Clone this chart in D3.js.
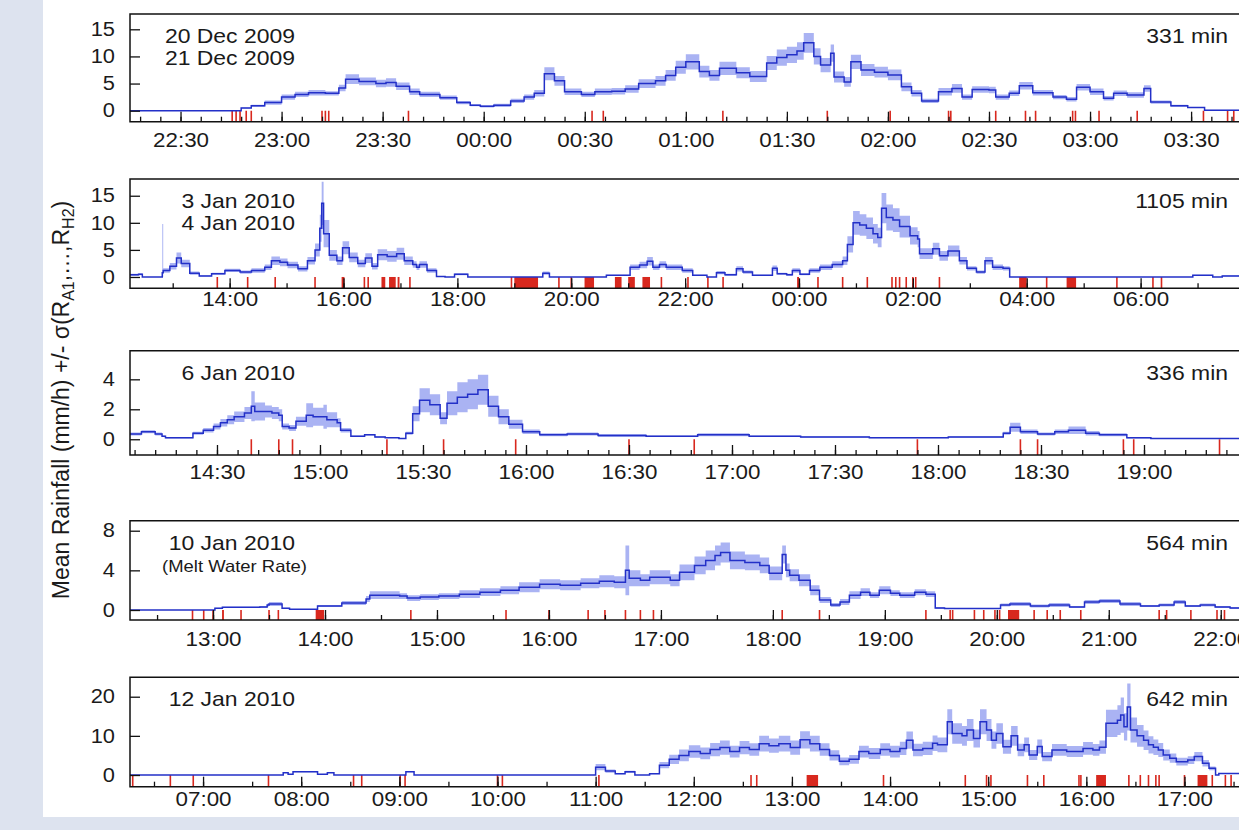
<!DOCTYPE html>
<html>
<head>
<meta charset="utf-8">
<script src="https://cdn.jsdelivr.net/npm/d3@7"></script>
<style>
body { margin: 0; background: #dde3ef; }
svg { display: block; }
text { font-family: "Liberation Sans", Arial, Helvetica, sans-serif; fill: #1a1a1a; }
</style>
</head>
<body>
<svg id="chart" width="1239" height="830"></svg>
<script>
// rows are [time, mean rainfall (mm/h), sigma]
var dec20 = [
  ["22:15",0,0],["22:48",0.5,0.1],["22:51",0.9,0.2],["22:55",1.5,0.4],["23:00",2.5,0.5],
  ["23:04",3.0,0.5],["23:08",3.3,0.5],["23:13",3.2,0.4],["23:17",4.2,0.6],["23:19",5.8,0.9],
  ["23:23",5.4,0.7],["23:28",5.0,0.7],["23:31",5.2,0.8],["23:34",4.5,0.7],["23:38",3.5,0.6],
  ["23:41",3.0,0.5],["23:47",2.4,0.4],["23:52",1.5,0.3],["23:56",1.0,0.2],["23:59",0.8,0.2],
  ["00:03",1.0,0.3],["00:08",1.8,0.4],["00:12",2.5,0.5],["00:15",3.2,0.6],["00:18",6.8,1.2],
  ["00:21",5.5,0.9],["00:24",3.5,0.6],["00:29",3.0,0.5],["00:33",3.5,0.6],["00:38",3.6,0.6],
  ["00:42",4.0,0.7],["00:46",5.0,0.8],["00:51",5.5,0.9],["00:54",6.5,1.0],["00:57",8.0,1.2],
  ["01:00",9.0,1.4],["01:04",7.2,1.1],["01:07",6.5,1.0],["01:10",7.8,1.2],["01:15",7.0,1.0],
  ["01:19",6.3,1.0],["01:24",8.8,1.3],["01:27",9.8,1.5],["01:30",10.3,1.5],["01:33",11.0,1.6],
  ["01:35",12.5,1.8],["01:38",10.0,1.5],["01:40",8.4,1.3],["01:43",10.6,1.6],["01:44",6.2,1.0],
  ["01:47",5.3,0.9],["01:49",9.0,1.3],["01:52",7.5,1.1],["01:56",7.1,1.0],["02:00",6.6,1.0],
  ["02:04",4.4,0.8],["02:07",3.2,0.6],["02:10",1.8,0.4],["02:15",3.5,0.7],["02:19",4.1,0.8],
  ["02:22",2.5,0.5],["02:25",3.9,0.6],["02:30",3.8,0.6],["02:32",2.5,0.5],["02:36",3.2,0.5],
  ["02:39",4.6,0.7],["02:43",3.3,0.5],["02:49",2.5,0.4],["02:53",2.1,0.4],["02:56",4.3,0.6],
  ["03:00",3.5,0.6],["03:04",2.3,0.4],["03:07",3.2,0.5],["03:11",2.9,0.5],["03:16",4.1,0.6],
  ["03:18",1.6,0.3],["03:24",0.9,0.2],["03:29",0.6,0.1],["03:34",0.1,0.05],["03:46",0.1,0.05]
];
var dec20Marks = ["22:45:20","22:46:30","22:47:40","22:49:30","22:51:00","23:12","23:13","23:14",
  "23:37:40","00:32:10","00:35:30","01:11","01:42","02:00:40","02:18","02:18:40","02:32",
  "02:40:50","02:43:50","02:54:50","02:55:40","03:02:40","03:14","03:33:40","03:40:50","03:42:40"];

var jan3 = [
  ["12:15",0.4,0.2],["12:24",0.5,0.2],["12:28",0,0],["12:49",0.8,9.0],["12:50",1.2,0.4],
  ["12:57",2.0,0.6],["13:04",3.5,1.0],["13:09",2.5,0.7],["13:18",0.7,0.3],["13:28",0.2,0.1],
  ["13:41",0.6,0.2],["13:55",1.2,0.3],["14:11",0.9,0.3],["14:23",1.2,0.4],["14:37",1.8,0.5],
  ["14:44",3.0,0.8],["14:53",2.7,0.7],["15:01",2.2,0.6],["15:12",1.5,0.5],["15:22",3.0,0.7],
  ["15:30",5.0,1.2],["15:35",9.0,2.5],["15:37",13.6,4.0],["15:39",8.0,2.5],["15:45",4.0,1.0],
  ["15:53",3.0,0.8],["15:59",5.4,1.2],["16:06",3.6,0.9],["16:15",2.5,0.7],["16:23",3.5,0.9],
  ["16:30",2.0,0.6],["16:36",4.1,1.0],["16:46",3.8,1.0],["16:56",4.3,1.1],["17:04",3.0,0.8],
  ["17:13",2.3,0.6],["17:17",1.8,0.5],["17:20",2.3,0.6],["17:28",1.2,0.4],["17:38",0.1,0.1],
  ["17:47",0,0],["17:57",0.5,0.2],["18:11",0,0],["19:30",0.7,0.3],["19:37",0,0],
  ["20:37",0.3,0.1],["21:02",1.8,0.5],["21:12",2.2,0.6],["21:20",2.9,0.8],["21:26",1.8,0.5],
  ["21:33",2.3,0.6],["21:40",1.8,0.5],["21:57",1.2,0.4],["22:08",0.3,0.1],["22:23",0,0],
  ["22:33",0.8,0.3],["22:42",0.4,0.2],["22:54",1.5,0.5],["23:01",0.9,0.3],["23:11",0.3,0.1],
  ["23:32",1.6,0.5],["23:37",0.6,0.2],["23:47",0.4,0.2],["23:53",1.2,0.4],["00:01",0.5,0.2],
  ["00:11",1.2,0.4],["00:22",1.8,0.5],["00:35",2.3,0.6],["00:46",3.0,0.8],["00:51",6.0,1.5],
  ["00:57",10.0,2.2],["01:04",9.6,2.0],["01:11",9.0,2.0],["01:18",8.0,1.8],["01:23",7.3,1.8],
  ["01:27",12.7,2.8],["01:32",11.0,2.4],["01:39",10.5,2.2],["01:46",9.3,2.0],["01:57",7.6,1.6],
  ["02:05",7.0,1.5],["02:07",4.3,1.0],["02:21",5.2,1.1],["02:28",3.9,0.9],["02:37",4.8,1.0],
  ["02:49",3.0,0.7],["02:57",1.6,0.4],["03:07",0.9,0.3],["03:16",3.0,0.7],["03:24",1.8,0.5],
  ["03:35",1.6,0.4],["03:42",0,0],["06:55",0.3,0.1],["07:16",0,0],["07:26",0.2,0.1],["07:50",0.2,0.1]
];
var jan3Marks = ["13:47","14:19","14:48","15:30","16:22","16:26","17:10","18:57","19:47","20:00",
  "21:35","22:03","22:24","22:40","00:20","00:46","01:12","01:38","01:42","01:46","01:53","02:00",
  "02:03","02:28","04:21","05:35","06:13","06:22"];
var jan3Blocks = [["15:58","16:01"],["16:40","16:44"],["16:48","16:55"],["16:57","16:59"],
  ["19:00","19:25"],["20:14","20:24"],["20:46","20:53"],["21:00","21:07"],["21:15","21:23"],
  ["23:58","00:00"],["03:52","04:00"],["04:42","04:52"]];

var jan6 = [
  ["14:04:40",0.35,0.1],["14:08",0.5,0.1],["14:12",0.35,0.1],["14:14",0.2,0.05],["14:15",0.1,0.05],
  ["14:23",0.4,0.1],["14:26",0.6,0.15],["14:29",0.85,0.2],["14:31",1.1,0.25],["14:33",1.3,0.3],
  ["14:35",1.5,0.35],["14:38",1.75,0.4],["14:40",2.2,1.0],["14:41",1.85,0.6],["14:44",1.85,0.4],
  ["14:46",1.75,0.4],["14:48",1.6,0.4],["14:49",0.85,0.2],["14:51",0.75,0.2],["14:53",1.2,0.3],
  ["14:56",1.6,0.8],["14:58",1.5,0.6],["15:01",1.5,0.8],["15:02",1.3,0.5],["15:05",1.1,0.3],
  ["15:06",0.6,0.15],["15:09",0.2,0.05],["15:13",0.3,0.05],["15:16",0.15,0.05],["15:19",0.1,0.02],
  ["15:23",0.05,0.02],["15:25",0.4,0.1],["15:27",1.7,0.5],["15:29",2.6,0.8],["15:32",2.3,0.7],
  ["15:35",1.4,0.4],["15:37",2.4,0.8],["15:40",2.8,1.0],["15:43",3.0,1.0],["15:46",3.3,1.0],
  ["15:49",2.2,0.7],["15:52",1.5,0.5],["15:55",1.0,0.3],["15:59",0.5,0.15],["16:04",0.3,0.1],
  ["16:12",0.35,0.1],["16:21",0.25,0.1],["16:35",0.2,0.05],["16:50",0.3,0.1],["17:05",0.2,0.05],
  ["17:20",0.15,0.05],["17:40",0.1,0.03],["18:03",0.15,0.05],["18:19",0.4,0.1],["18:21",0.8,0.3],
  ["18:24",0.5,0.15],["18:29",0.35,0.1],["18:34",0.5,0.15],["18:38",0.6,0.25],["18:43",0.4,0.15],
  ["18:47",0.3,0.1],["18:55",0.1,0.05],["19:02",0.05,0.02],["19:29",0.05,0.02]
];
var jan6Marks = ["14:40","14:48","14:52","15:19:30","15:36","15:57","16:30","16:49","17:54",
  "18:24","18:29","18:54","18:57","19:22"];

var jan10 = [
  ["12:15:30",0,0],["13:01",0.17,0.05],["13:05",0.27,0.05],["13:18",0.27,0.05],["13:25",0.3,0.1],
  ["13:29",0.5,0.15],["13:30",0.6,0.2],["13:37",0.17,0.05],["13:41",0.07,0.02],["13:56",0.4,0.1],
  ["14:09",0.7,0.2],["14:22",1.1,0.3],["14:24",1.5,0.4],["14:40",1.4,0.3],["14:44",1.2,0.3],
  ["14:51",1.3,0.3],["15:01",1.4,0.3],["15:12",1.6,0.4],["15:23",1.8,0.4],["15:34",2.0,0.4],
  ["15:44",2.3,0.5],["15:55",2.6,0.5],["16:06",2.5,0.5],["16:17",2.7,0.5],["16:27",2.9,0.6],
  ["16:35",2.8,0.6],["16:41",4.0,2.5],["16:43",3.2,0.8],["16:49",3.0,0.6],["16:54",3.3,0.7],
  ["17:05",3.0,0.6],["17:10",3.8,0.8],["17:18",4.5,0.9],["17:24",5.0,1.0],["17:29",5.5,1.0],
  ["17:32",5.8,1.0],["17:37",5.0,0.9],["17:45",4.8,0.8],["17:53",4.5,0.8],["17:58",3.7,0.7],
  ["18:05",5.6,0.9],["18:07",4.0,0.7],["18:09",3.5,0.6],["18:14",3.0,0.6],["18:20",2.0,0.5],
  ["18:25",1.0,0.3],["18:31",0.5,0.2],["18:36",0.8,0.3],["18:41",1.5,0.4],["18:47",1.8,0.4],
  ["18:52",1.5,0.3],["18:57",2.0,0.4],["19:03",1.7,0.3],["19:08",1.5,0.3],["19:16",1.8,0.3],
  ["19:22",1.6,0.3],["19:27",0.2,0.1],["19:32",0.15,0.05],["20:02",0.5,0.15],["20:07",0.6,0.2],
  ["20:18",0.4,0.15],["20:28",0.5,0.2],["20:39",0.3,0.1],["20:47",0.8,0.2],["20:55",0.9,0.2],
  ["21:06",0.6,0.2],["21:17",0.4,0.1],["21:27",0.5,0.15],["21:35",0.8,0.2],["21:41",0.4,0.1],
  ["21:49",0.5,0.15],["21:57",0.3,0.1],["22:05",0.2,0.1],["22:13",0.2,0.1]
];
var jan10Marks = ["12:49","12:55","13:00","13:15","13:30","13:35","14:46","15:37","16:00","16:21",
  "16:30","16:41","16:49","16:56","18:05","18:25","19:22","19:35","19:36:20","19:48","19:53",
  "19:59","20:01:30","20:20","20:27","20:34","20:45","21:27","21:31","21:44","21:58","22:02"];
var jan10Blocks = [["13:04:50","13:05:50"],["13:55","13:59:30"],["20:06","20:12"]];

var jan12 = [
  ["06:15:20",0,0],["07:49",0.6,0.1],["07:52",0.2,0.05],["07:55",0.8,0.1],["08:10",0.2,0.05],
  ["08:16",0.6,0.1],["08:20",0,0],["09:04",0.8,0.1],["09:09",0,0],["11:00",2.0,0.8],
  ["11:06",1.0,0.4],["11:12",0.3,0.1],["11:18",0.8,0.3],["11:24",0,0],["11:33",0.3,0.1],
  ["11:39",2.5,0.8],["11:45",4.0,1.2],["11:51",5.0,1.5],["11:57",6.0,1.6],["12:04",5.5,1.5],
  ["12:10",6.5,1.7],["12:16",7.0,1.8],["12:22",6.0,1.5],["12:28",7.0,1.7],["12:34",6.5,1.6],
  ["12:40",8.0,2.0],["12:46",7.5,1.8],["12:52",8.0,2.0],["12:59",7.0,1.8],["13:05",9.0,2.2],
  ["13:11",8.0,2.0],["13:17",6.5,1.6],["13:23",5.0,1.3],["13:29",3.5,1.0],["13:35",4.0,1.1],
  ["13:41",6.0,1.5],["13:47",5.5,1.4],["13:54",6.5,1.6],["14:00",6.0,1.5],["14:06",6.8,1.7],
  ["14:10",8.9,2.2],["14:14",6.4,1.6],["14:20",6.8,1.7],["14:26",8.1,2.0],["14:29",7.7,1.9],
  ["14:35",13.6,3.2],["14:38",10.6,2.6],["14:44",10.0,2.5],["14:47",11.5,2.8],["14:51",9.3,2.3],
  ["14:55",13.6,3.2],["14:59",11.5,2.8],["15:02",8.9,2.2],["15:05",10.6,2.6],["15:09",7.2,1.8],
  ["15:14",10.0,2.5],["15:18",6.4,1.6],["15:22",7.7,1.9],["15:25",5.1,1.3],["15:30",7.3,1.8],
  ["15:33",4.7,1.2],["15:39",6.4,1.5],["15:48",6.0,1.4],["15:58",6.8,1.6],["16:04",6.4,1.5],
  ["16:08",7.1,1.7],["16:12",13.2,3.5],["16:19",14.0,3.8],["16:21",15.3,4.5],["16:23",12.3,3.5],
  ["16:25",17.4,6.0],["16:27",11.5,3.2],["16:31",10.0,2.8],["16:35",8.9,2.5],["16:38",7.7,2.2],
  ["16:41",7.1,2.0],["16:44",6.4,1.8],["16:47",5.1,1.4],["16:51",4.3,1.2],["16:55",3.4,1.0],
  ["17:02",3.8,1.0],["17:06",4.7,1.2],["17:11",3.0,0.8],["17:15",1.7,0.5],["17:19",0,0],
  ["17:21",0.4,0.1],["17:37",0.4,0.1]
];
var jan12Marks = ["06:17","06:40","06:54","07:40","08:32","08:37","09:00:30","09:03:30","10:00",
  "10:03","11:02","12:35","12:38:30","13:56","14:46","14:59","15:01:40","15:24","15:34","15:55:30",
  "15:56:40","16:26","16:33","16:38","16:42:30","16:44:30","17:00","17:17","17:25","17:28:30"];
var jan12Blocks = [["13:09","13:16"],["16:06","16:12"],["17:08","17:14"]];

var dateLabels = [["20 Dec 2009","21 Dec 2009"],["3 Jan 2010","4 Jan 2010"],["6 Jan 2010"],["10 Jan 2010"],["12 Jan 2010"]];
var durations = ["331 min","1105 min","336 min","564 min","642 min"];
var yTickValues = [[0,5,10,15],[0,5,10,15],[0,2,4],[0,4,8],[0,10,20]];

var LINE = "#2330c8", BAND = "#aab3f3", RED = "#d8281e";
var SX = 1.12;
var X0 = 130, X1 = 1245;

var panels = [
  {rows: dec20, marks: dec20Marks, blocks: [], day: [2009,11,20], from: "22:15", to: "03:46",
   top: 14, bottom: 121.7, yDom: [-2.03, 17.82], major: d3.timeMinute.every(30), minor: d3.timeMinute.every(6), pad: 11},
  {rows: jan3, marks: jan3Marks, blocks: jan3Blocks, day: [2010,0,3], from: "12:15", to: "07:50",
   top: 179, bottom: 288.3, yDom: [-2.09, 18.09], major: d3.timeHour.every(2), minor: d3.timeHour.every(1), pad: 4},
  {rows: jan6, marks: jan6Marks, blocks: [], day: [2010,0,6], from: "14:04:40", to: "19:29:25",
   top: 350.7, bottom: 455, yDom: [-1.05, 5.91], major: d3.timeMinute.every(30), minor: d3.timeMinute.every(6), pad: 10},
  {rows: jan10, marks: jan10Marks, blocks: jan10Blocks, day: [2010,0,10], from: "12:15:30", to: "22:13",
   top: 520.7, bottom: 620, yDom: [-1.01, 9.01], major: d3.timeHour.every(1), minor: d3.timeMinute.every(30), pad: 11.5},
  {rows: jan12, marks: jan12Marks, blocks: jan12Blocks, day: [2010,0,12], from: "06:15:20", to: "17:37",
   top: 677.3, bottom: 786.7, yDom: [-2.99, 24.96], major: d3.timeHour.every(1), minor: d3.timeMinute.every(30), pad: 5}
];

function toDate(p, s) {
  var parts = s.split(":").map(Number);
  var f = p.from.split(":").map(Number);
  var start = new Date(p.day[0], p.day[1], p.day[2], f[0], f[1], f[2] || 0);
  var d = new Date(p.day[0], p.day[1], p.day[2], parts[0], parts[1], parts[2] || 0);
  if (d < start) d = d3.timeDay.offset(d, 1);
  return d;
}

// stretched text, the original figure's lettering is wide
function label(g, x, y, str, size, anchor) {
  return g.append("text")
    .attr("transform", "translate(" + x + "," + y + ") scale(" + SX + ",1)")
    .attr("text-anchor", anchor || "start")
    .attr("font-size", size)
    .text(str);
}

var svg = d3.select("#chart");
svg.append("rect").attr("x", 43).attr("y", 0).attr("width", 1196).attr("height", 817).attr("fill", "#fff");

panels.forEach(function(p, i) {
  var t = function(s) { return toDate(p, s); };
  var x = d3.scaleTime().domain([t(p.from), t(p.to)]).range([X0, X1]);
  var y = d3.scaleLinear().domain(p.yDom).range([p.bottom, p.top]);
  var g = svg.append("g").attr("class", "panel");

  g.append("clipPath").attr("id", "clip" + i)
    .append("rect").attr("x", X0).attr("y", p.top).attr("width", X1 - X0).attr("height", p.bottom - p.top);
  var plot = g.append("g").attr("clip-path", "url(#clip" + i + ")");

  var rows = p.rows.map(function(r) { return {t: t(r[0]), m: r[1], s: r[2]}; });

  plot.append("path").datum(rows)
    .attr("fill", BAND)
    .attr("d", d3.area().curve(d3.curveStepAfter)
      .x(function(d) { return x(d.t); })
      .y0(function(d) { return y(Math.max(0, d.m - d.s)); })
      .y1(function(d) { return y(d.m + d.s); }));

  // ticks pointing into the plot
  g.append("g").attr("transform", "translate(0," + p.bottom + ")")
    .call(d3.axisBottom(x).ticks(p.minor).tickSize(-5).tickSizeOuter(0).tickFormat(function() { return ""; }))
    .call(function(a) { a.select(".domain").remove(); })
    .selectAll("line").attr("stroke", "#111").attr("stroke-width", 1.3);

  var ax = g.append("g").attr("transform", "translate(0," + p.bottom + ")")
    .call(d3.axisBottom(x).ticks(p.major).tickSize(-10).tickSizeOuter(0)
      .tickPadding(p.pad).tickFormat(d3.timeFormat("%H:%M")))
    .attr("font-size", 20);
  ax.select(".domain").remove();
  ax.selectAll("line").attr("stroke", "#111").attr("stroke-width", 1.3);
  ax.selectAll("text").attr("fill", "#1a1a1a").attr("transform", "scale(" + SX + ",1)");

  var ay = g.append("g").attr("transform", "translate(" + X0 + ",0)")
    .call(d3.axisLeft(y).tickValues(yTickValues[i]).tickFormat(d3.format("d"))
      .tickSize(-10).tickSizeOuter(0).tickPadding(15))
    .attr("font-size", 19.5);
  ay.select(".domain").remove();
  ay.selectAll("line").attr("stroke", "#111").attr("stroke-width", 1.3);
  ay.selectAll("text").attr("fill", "#1a1a1a").attr("x", -15 / SX).attr("transform", "scale(" + SX + ",1)");

  // red marks along the bottom
  plot.selectAll(null).data(p.blocks).join("rect")
    .attr("x", function(d) { return x(t(d[0])); })
    .attr("width", function(d) { return Math.max(1.5, x(t(d[1])) - x(t(d[0]))); })
    .attr("y", y(0)).attr("height", p.bottom - y(0))
    .attr("fill", RED);
  plot.selectAll(null).data(p.marks).join("line")
    .attr("x1", function(d) { return x(t(d)); }).attr("x2", function(d) { return x(t(d)); })
    .attr("y1", y(0)).attr("y2", p.bottom)
    .attr("stroke", RED).attr("stroke-width", 1.6);

  plot.append("path").datum(rows)
    .attr("fill", "none").attr("stroke", LINE).attr("stroke-width", 1.5)
    .attr("d", d3.line().curve(d3.curveStepAfter)
      .x(function(d) { return x(d.t); })
      .y(function(d) { return y(d.m); }));

  g.append("path")
    .attr("d", "M" + X1 + "," + p.top + "H" + X0 + "V" + p.bottom + "H" + X1)
    .attr("fill", "none").attr("stroke", "#111").attr("stroke-width", 1.5);

  dateLabels[i].forEach(function(s, k) {
    label(g, 295, p.top + 29 + k * 21.5, s, 20.5, "end");
  });
  label(g, 1228, p.top + 29, durations[i], 20.5, "end");
  if (i === 3) label(g, 162, p.top + 51.5, "(Melt Water Rate)", 16.5);
});

var title = svg.append("text")
  .attr("transform", "translate(69,400) scale(1.08,1) rotate(-90)")
  .attr("text-anchor", "middle")
  .attr("font-size", 23);
title.append("tspan").text("Mean Rainfall (mm/h) +/- \u03c3(R");
title.append("tspan").attr("font-size", 16).attr("dy", 5).text("A1");
title.append("tspan").attr("dy", -5).text(",\u2026,R");
title.append("tspan").attr("font-size", 16).attr("dy", 5).text("H2");
title.append("tspan").attr("dy", -5).text(")");
</script>
</body>
</html>
